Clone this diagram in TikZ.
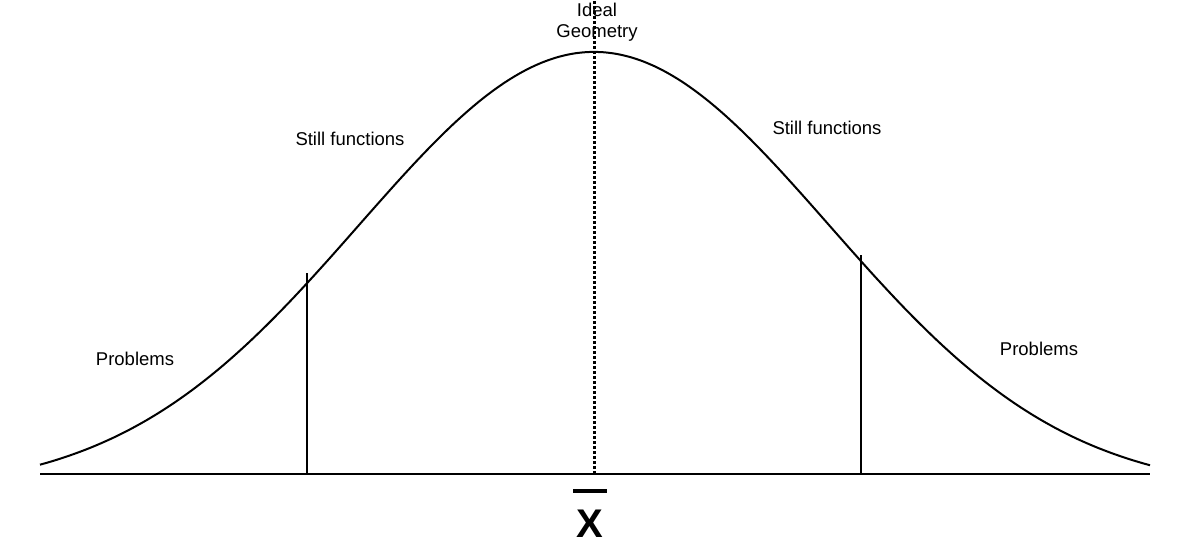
\documentclass[tikz,border=0pt]{standalone}
\usepackage{fontspec}
\setmainfont{Liberation Sans}
\usetikzlibrary{positioning}
\begin{document}
\begin{tikzpicture}[x=1pt,y=1pt,line width=2pt,
   lbl/.style={font=\fontsize{18.5}{21}\selectfont,align=center}]
   \useasboundingbox (0,0) rectangle (1193,552);
   % axis and bell curve
   \draw (40,78) -- (1150,78);
   \draw[domain=40:1150,samples=200,smooth]
      plot (\x,{78+440*exp(-((\x-594)/235)^2/2)-18});
   % limits
   \draw (307,78) -- (307,279);
   \draw (861,78) -- (861,297);
   \draw[dotted,line width=3pt] (594,78) -- (594,552);
   % labels
   \node[lbl] (ideal) at (597,530) {Ideal\\Geometry};
   \node[lbl] (stillL) at (350,413) {Still functions};
   \node[lbl] (stillR) at (827,424) {Still functions};
   \node[lbl] (probL) at (135,193) {Problems};
   \node[lbl] (probR) at (1039,203) {Problems};
   \node[font=\fontsize{40}{44}\selectfont\bfseries] (mean) at (590,28) {X};
   \draw[line width=4pt] (573,61) -- (607,61);
\end{tikzpicture}
\end{document}
